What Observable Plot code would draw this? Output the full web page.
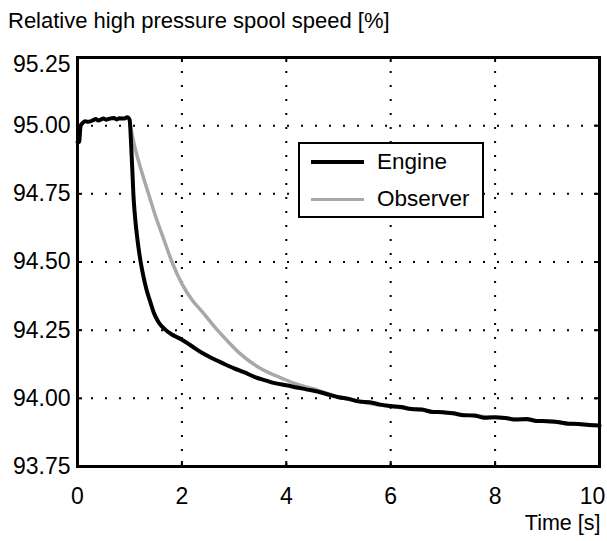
<!DOCTYPE html>
<html><head><meta charset="utf-8">
<script src="https://cdn.jsdelivr.net/npm/d3@7"></script>
<script src="https://cdn.jsdelivr.net/npm/@observablehq/plot@0.6"></script>
<style>
body{margin:0;background:#fff;font-family:"Liberation Sans",Arial,sans-serif;}
#wrap{position:relative;width:607px;height:541px;overflow:hidden;}
#title{position:absolute;left:8px;top:8px;font-size:22px;color:#000;white-space:nowrap;}
#legend{position:absolute;left:298px;top:142px;width:182px;height:72px;border:2px solid #000;background:#fff;}
#legend .row{position:absolute;left:0;height:30px;display:flex;align-items:center;font-size:22.5px;}
#legend .sw{display:inline-block;width:53px;margin-left:11px;margin-right:13px;}
</style></head><body>
<div id="wrap">
<div id="title">Relative high pressure spool speed [%]</div>
</div>
<script>
// ---- data ----
const xTicks = [0, 2, 4, 6, 8, 10];
const yTicks = [93.75, 94.00, 94.25, 94.50, 94.75, 95.00, 95.25];
const xLabel = "Time [s]";
const seriesNames = ["Engine", "Observer"];
const seriesColors = ["#000000", "#a8a8a8"];

const engineTime  = [0, 0.03, 0.06, 0.1, 0.15, 0.2, 0.3, 0.35, 0.4, 0.5, 0.55, 0.6, 0.7, 0.75, 0.8, 0.9, 0.95, 0.97, 1.0, 1.03, 1.05, 1.07, 1.1, 1.15, 1.21, 1.26, 1.32, 1.4, 1.46, 1.55, 1.68, 1.8, 1.9,
  2.0, 2.2, 2.4, 2.6, 2.8, 3.0, 3.2, 3.4, 3.6, 3.8, 4.0, 4.2, 4.4, 4.6, 4.8, 5.0, 5.2, 5.4, 5.6, 5.8, 6.0, 6.2, 6.4, 6.6, 6.8, 7.0, 7.2, 7.4, 7.6, 7.8, 8.0, 8.2, 8.4, 8.6, 8.8, 9.0, 9.2, 9.4, 9.6, 9.8, 10.0];
const engineSpeed = [94.94, 94.94, 95.00, 95.010, 95.016, 95.014, 95.020, 95.024, 95.019, 95.026, 95.022, 95.025, 95.028, 95.023, 95.027, 95.026, 95.031, 95.030, 95.02, 94.92, 94.84, 94.75, 94.67, 94.58, 94.50, 94.45, 94.40, 94.35, 94.315, 94.28, 94.252, 94.235, 94.225,
  94.215, 94.190, 94.165, 94.145, 94.127, 94.110, 94.095, 94.078, 94.066, 94.055, 94.048, 94.040, 94.032, 94.025, 94.014, 94.004, 93.998, 93.988, 93.986, 93.977, 93.972, 93.968, 93.961, 93.959, 93.950, 93.949, 93.945, 93.938, 93.937, 93.929, 93.931, 93.928, 93.922, 93.924, 93.917, 93.916, 93.913, 93.907, 93.906, 93.902, 93.900];

const observerTime  = [1.0, 1.1, 1.2, 1.36, 1.5, 1.65, 1.81, 2.0, 2.2, 2.4, 2.68, 2.9, 3.12, 3.5, 3.96, 4.2, 4.6, 5.0, 5.5, 6.0, 6.5, 7.0, 7.5, 8.0, 8.5, 9.0, 9.5, 10.0];
const observerSpeed = [95.01, 94.92, 94.85, 94.75, 94.665, 94.585, 94.50, 94.42, 94.36, 94.315, 94.25, 94.205, 94.163, 94.11, 94.07, 94.052, 94.03, 94.005, 93.985, 93.970, 93.958, 93.948, 93.938, 93.930, 93.922, 93.915, 93.906, 93.90];

const engine = engineTime.map((t, i) => ({t, v: engineSpeed[i]}));
const observer = observerTime.map((t, i) => ({t, v: observerSpeed[i]}));

const W = 607, H = 541, mL = 77, mR = 8, mT = 57, mB = 75;
const fw = W - mL - mR, fh = H - mT - mB;
const dotted = {stroke: "#000", strokeOpacity: 1, strokeWidth: 2, strokeDasharray: "2,12"};
const tickStyle = {stroke: "#000", strokeWidth: 2};
const fmtY = d3.format(".2f");

const chart = Plot.plot({
  width: W, height: H,
  marginLeft: mL, marginRight: mR, marginTop: mT, marginBottom: mB,
  style: {fontFamily: "'Liberation Sans', Arial, sans-serif", fontSize: "23px", background: "#fff", color: "#000"},
  x: {domain: [0, 10]},
  y: {domain: [93.75, 95.25]},
  marks: [
    Plot.gridX(xTicks.slice(1, -1), dotted),
    Plot.gridY(yTicks.slice(1, -1), dotted),
    Plot.ruleX(xTicks.slice(1, -1), {...tickStyle, insetTop: fh - 5}),
    Plot.ruleX(xTicks.slice(1, -1), {...tickStyle, insetBottom: fh - 5}),
    Plot.ruleY(yTicks.slice(1, -1), {...tickStyle, insetRight: fw - 5}),
    Plot.ruleY(yTicks.slice(1, -1), {...tickStyle, insetLeft: fw - 5}),
    Plot.axisX(xTicks.slice(0, -1), {anchor: "bottom", tickSize: 0, tickPadding: 21, tickFormat: d => String(d), label: null}),
    Plot.axisX(xTicks.slice(-1), {anchor: "bottom", tickSize: 0, tickPadding: 21, tickFormat: d => String(d), label: null, dx: -7}),
    Plot.axisY(yTicks.slice(0, -1), {anchor: "left", tickSize: 0, tickPadding: 7, tickFormat: fmtY, label: null}),
    Plot.axisY(yTicks.slice(-1), {anchor: "left", tickSize: 0, tickPadding: 7, tickFormat: fmtY, label: null, dy: 7}),
    Plot.text([xLabel], {text: d => d, frameAnchor: "bottom-right", textAnchor: "end", lineAnchor: "middle", dy: 57, dx: 1, fontSize: 21.5}),
    Plot.line(observer, {x: "t", y: "v", stroke: seriesColors[1], strokeWidth: 3.5, curve: "monotone-x"}),
    Plot.line(engine, {x: "t", y: "v", stroke: seriesColors[0], strokeWidth: 4, curve: "monotone-x"}),
    Plot.frame({stroke: "#000", strokeWidth: 3})
  ]
});
const wrap = document.getElementById("wrap");
wrap.insertBefore(chart, wrap.firstChild);

// legend
const lg = document.createElement("div");
lg.id = "legend";
seriesNames.forEach((name, i) => {
  const row = document.createElement("div");
  row.className = "row";
  row.style.top = (3 + i * 37) + "px";
  const sw = document.createElement("span");
  sw.className = "sw";
  sw.style.borderTop = (i === 0 ? 4 : 3.5) + "px solid " + seriesColors[i];
  row.appendChild(sw);
  row.appendChild(document.createTextNode(name));
  lg.appendChild(row);
});
wrap.appendChild(lg);
</script>
</body></html>
